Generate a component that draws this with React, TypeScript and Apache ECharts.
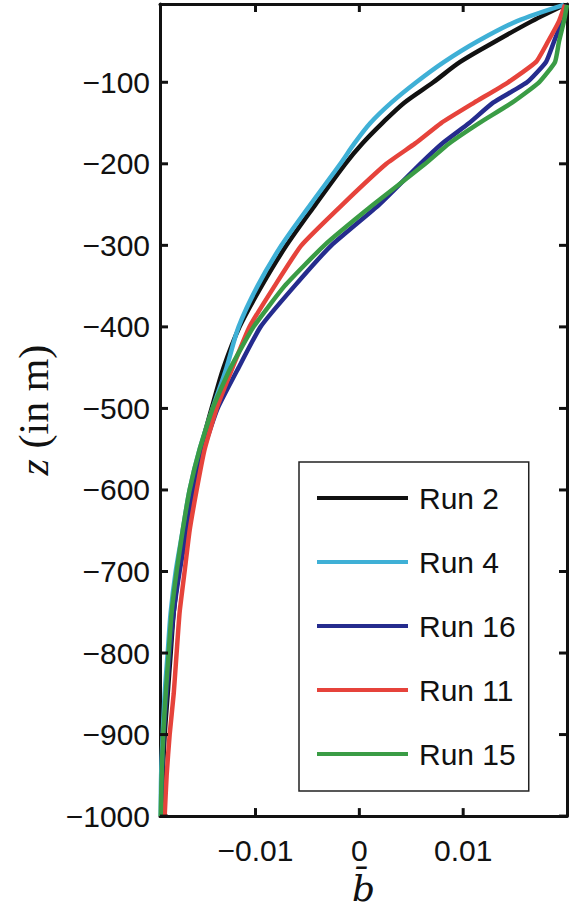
import React, { useEffect, useRef } from "react";
import * as echarts from "echarts";

const depths = [-5, -25, -50, -75, -100, -125, -150, -175, -200, -250, -300, -350, -400, -450, -500, -550, -600, -650, -700, -750, -800, -850, -900, -950, -1000];

const run2 = [0.0198, 0.01663, 0.01308, 0.00971, 0.00712, 0.00433, 0.00221, 0.00029, -0.00135, -0.00423, -0.00702, -0.00942, -0.01154, -0.01308, -0.01423, -0.01529, -0.01615, -0.01673, -0.0174, -0.01788, -0.01817, -0.01846, -0.01875, -0.01894, -0.01904];
const run4 = [0.01971, 0.01519, 0.01135, 0.00817, 0.00548, 0.00308, 0.00106, -0.00048, -0.00183, -0.00471, -0.0075, -0.00981, -0.01163, -0.01279, -0.01413, -0.01538, -0.01635, -0.01702, -0.01769, -0.01817, -0.01846, -0.01875, -0.01894, -0.01909, -0.01913];
const run16 = [0.0199, 0.01952, 0.01875, 0.01798, 0.01615, 0.01288, 0.01058, 0.00798, 0.00587, 0.00192, -0.00269, -0.00625, -0.00952, -0.01163, -0.01365, -0.015, -0.01596, -0.01663, -0.01731, -0.01788, -0.01827, -0.01856, -0.01885, -0.01899, -0.01904];
const run11 = [0.01981, 0.01923, 0.01817, 0.01702, 0.01433, 0.01106, 0.00788, 0.00538, 0.0026, -0.00163, -0.00558, -0.00817, -0.01058, -0.01221, -0.01375, -0.0149, -0.01567, -0.01635, -0.01683, -0.01731, -0.0176, -0.01788, -0.01827, -0.01856, -0.01875];
const run15 = [0.02, 0.01971, 0.01923, 0.01885, 0.01731, 0.01471, 0.01154, 0.00865, 0.00635, 0.00135, -0.00337, -0.00721, -0.01019, -0.0124, -0.01413, -0.01538, -0.01635, -0.01702, -0.0176, -0.01808, -0.01837, -0.01865, -0.01889, -0.01904, -0.01913];

const seriesNames = ["Run 2", "Run 4", "Run 16", "Run 11", "Run 15"];
const seriesColors = ["#111111", "#3fb0d6", "#252c8e", "#e6433b", "#3a9c45"];
const seriesSmooth = [0.3, 0.3, 0.15, 0.15, 0.15];
const seriesValues = [run2, run4, run16, run11, run15];

const xTicks = [-0.01, 0, 0.01];
const yTicks = [-1000, -900, -800, -700, -600, -500, -400, -300, -200, -100];

const X_MIN = -0.0192;
const X_MAX = 0.02;
const Y_MIN = -1000;
const Y_MAX = -4;

const fmt = (v: number) => (v < 0 ? "\u2212" + String(Math.abs(v)) : String(v));

export default function App() {
  const ref = useRef<HTMLDivElement>(null);
  useEffect(() => {
    if (!ref.current) return;
    const chart = echarts.init(ref.current, null, { renderer: "svg" });
    const frameLine = { show: true, onZero: false, lineStyle: { color: "#111", width: 3 } };
    const sans = "'Liberation Sans', Arial, Helvetica, sans-serif";
    const serif = "'Liberation Serif', 'Times New Roman', serif";
    chart.setOption({
      animation: false,
      backgroundColor: "#ffffff",
      grid: { left: 160, right: 2, top: 4, bottom: 85, show: false },
      legend: {
        orient: "vertical",
        left: 299,
        top: 462,
        padding: [21, 13, 22, 18],
        backgroundColor: "#fff",
        borderColor: "#222",
        borderWidth: 1.5,
        itemWidth: 91,
        itemHeight: 4,
        itemGap: 34,
        icon: "rect",
        textStyle: { fontFamily: sans, fontSize: 30, lineHeight: 30, color: "#111", padding: [0, 0, 0, 6] },
        data: seriesNames,
      },
      xAxis: [
        {
          type: "value",
          min: X_MIN,
          max: X_MAX,
          position: "bottom",
          axisLine: frameLine,
          splitLine: { show: false },
          axisTick: { show: false },
          axisLabel: {
            customValues: xTicks,
            formatter: fmt,
            fontFamily: sans,
            fontSize: 30,
            color: "#111",
            margin: 19,
          },
          name: "b\u0304",
          nameLocation: "middle",
          nameGap: 39,
          nameTextStyle: { fontFamily: "'DejaVu Serif', serif", fontStyle: "italic", fontSize: 36, color: "#111" },
        },
        {
          type: "value",
          min: X_MIN,
          max: X_MAX,
          position: "top",
          axisLine: frameLine,
          splitLine: { show: false },
          axisTick: { show: false },
          axisLabel: { show: false },
        },
      ],
      yAxis: [
        {
          type: "value",
          min: Y_MIN,
          max: Y_MAX,
          position: "left",
          axisLine: frameLine,
          splitLine: { show: false },
          axisTick: { show: false },
          axisLabel: {
            customValues: yTicks,
            formatter: fmt,
            fontFamily: sans,
            fontSize: 30,
            color: "#111",
            margin: 10,
          },
          name: "{i|z} {r|(in m)}",
          nameLocation: "middle",
          nameRotate: 90,
          nameGap: 105,
          nameTextStyle: {
            fontFamily: serif,
            fontSize: 42,
            color: "#111",
            rich: {
              i: { fontFamily: serif, fontStyle: "italic", fontSize: 42, color: "#111" },
              r: { fontFamily: serif, fontSize: 42, color: "#111" },
            },
          },
        },
        {
          type: "value",
          min: Y_MIN,
          max: Y_MAX,
          position: "right",
          axisLine: frameLine,
          splitLine: { show: false },
          axisTick: { show: false },
          axisLabel: { show: false },
        },
      ],
      series: seriesNames.map((name, i) => ({
        name,
        type: "line",
        xAxisIndex: 0,
        yAxisIndex: 0,
        showSymbol: false,
        symbol: "none",
        smooth: seriesSmooth[i],
        color: seriesColors[i],
        lineStyle: { width: 4.5, color: seriesColors[i] },
        data: depths.map((z, k) => [seriesValues[i][k], z]),
      })),
    });

    // inward tick marks on all four sides, positioned through the axes' own scales
    const tickPx = 8;
    const toPx = (v: [number, number]) => chart.convertToPixel({ gridIndex: 0 }, v) as number[];
    const ticks: any[] = [];
    const tickStyle = { stroke: "#111", lineWidth: 3 };
    xTicks.forEach((v) => {
      const b = toPx([v, Y_MIN]);
      const t = toPx([v, Y_MAX]);
      ticks.push({ type: "line", z: 100, silent: true, shape: { x1: b[0], y1: b[1], x2: b[0], y2: b[1] - tickPx }, style: tickStyle });
      ticks.push({ type: "line", z: 100, silent: true, shape: { x1: t[0], y1: t[1], x2: t[0], y2: t[1] + tickPx }, style: tickStyle });
    });
    yTicks.forEach((v) => {
      const l = toPx([X_MIN, v]);
      const r = toPx([X_MAX, v]);
      ticks.push({ type: "line", z: 100, silent: true, shape: { x1: l[0], y1: l[1], x2: l[0] + tickPx, y2: l[1] }, style: tickStyle });
      ticks.push({ type: "line", z: 100, silent: true, shape: { x1: r[0], y1: r[1], x2: r[0] - tickPx, y2: r[1] }, style: tickStyle });
    });
    chart.setOption({ graphic: { elements: ticks } });

    return () => chart.dispose();
  }, []);
  return <div ref={ref} style={{ position: "absolute", left: 0, top: 0, width: 569, height: 911 }} />;
}
